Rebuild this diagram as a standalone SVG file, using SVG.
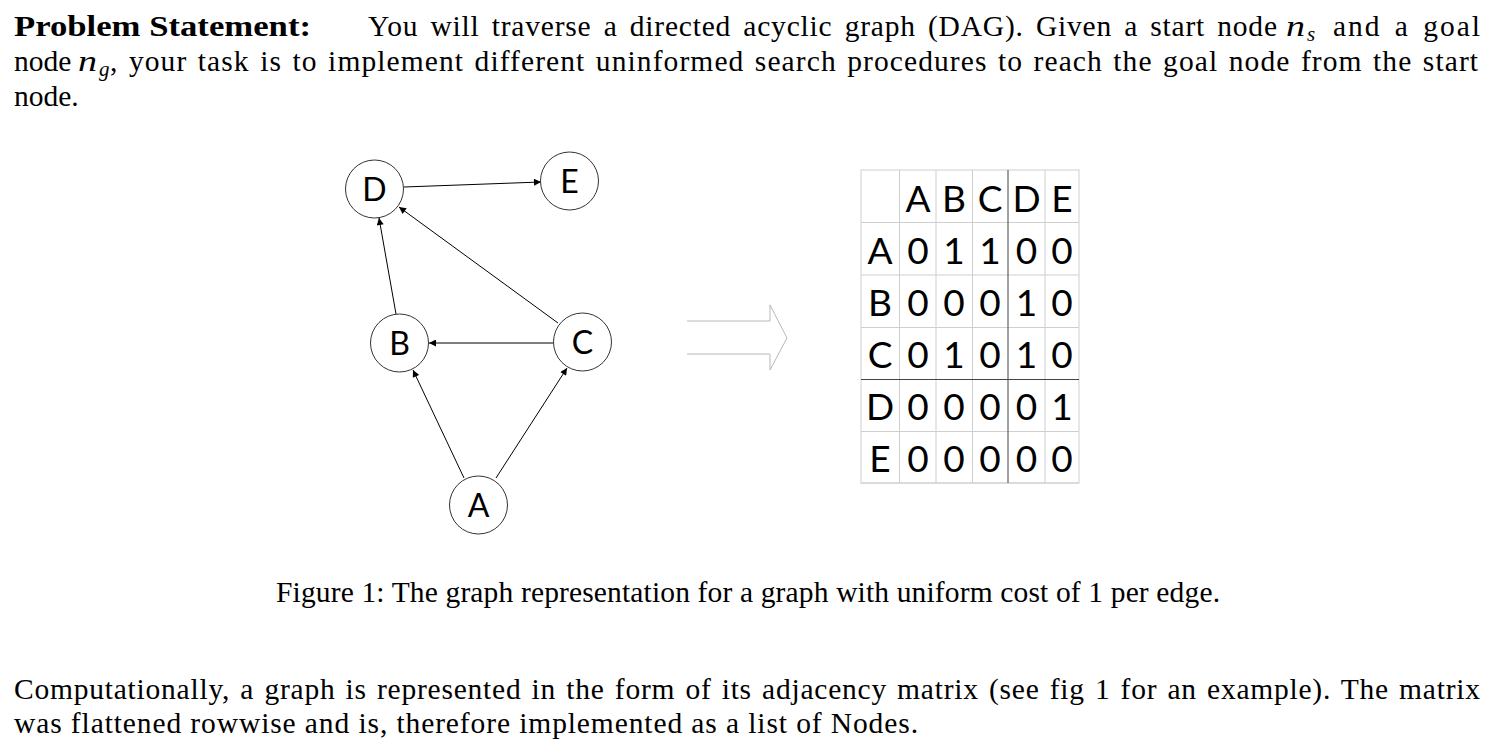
<svg xmlns="http://www.w3.org/2000/svg" width="1500" height="756" viewBox="0 0 1500 756">
<style>
.t{font-family:"Liberation Serif","Times New Roman",serif;font-size:29.5px;fill:#000}
.b{font-weight:bold}
.i{font-style:italic}
.sub{font-family:"Liberation Serif","Times New Roman",serif;font-size:21px;font-style:italic;fill:#000}
.node circle{fill:#fff;stroke:#333;stroke-width:1}
.node text{font-family:Lato,"Open Sans",sans-serif;font-size:32px;text-anchor:middle;fill:#000}
.edge{stroke:#000;stroke-width:1;fill:none;marker-end:url(#ah)}
.grid{stroke:#cfcfcf;stroke-width:1;fill:none}
.gdark{stroke:#444;stroke-width:1}
.m{font-family:Lato,"Open Sans",sans-serif;font-size:37px;text-anchor:middle;fill:#000}
</style>
<defs>
<marker id="ah" viewBox="0 0 10 10" refX="10" refY="5" markerWidth="9" markerHeight="7" markerUnits="userSpaceOnUse" orient="auto">
<path d="M0,0 L10,5 L0,10 z" fill="#000"/>
</marker>
</defs>
<rect width="1500" height="756" fill="#fff"/>

<g id="text-top">
<text class="t b" x="14" y="36" textLength="297" lengthAdjust="spacingAndGlyphs">Problem Statement:</text>
<text class="t" x="368" y="36" word-spacing="4" textLength="909" lengthAdjust="spacing">You will traverse a directed acyclic graph (DAG). Given a start node</text>
<text class="t i" x="1286" y="36" textLength="19" lengthAdjust="spacingAndGlyphs">n</text>
<text class="sub" x="1307" y="41">s</text>
<text class="t" x="1333" y="36" word-spacing="4" textLength="147" lengthAdjust="spacing">and a goal</text>
<text class="t" x="14" y="71">node</text>
<text class="t i" x="78" y="71" textLength="19" lengthAdjust="spacingAndGlyphs">n</text>
<text class="sub" x="99" y="76">g</text>
<text class="t" x="110" y="71" word-spacing="2" textLength="1368" lengthAdjust="spacing">, your task is to implement different uninformed search procedures to reach the goal node from the start</text>
<text class="t" x="14" y="106">node.</text>
</g>

<g id="connectors">
<line class="edge" x1="404" y1="187" x2="541" y2="182"/>
<line class="edge" x1="396" y1="314" x2="379" y2="218"/>
<line class="edge" x1="558" y1="323" x2="399" y2="207"/>
<line class="edge" x1="553" y1="343" x2="429" y2="343"/>
<line class="edge" x1="464" y1="478" x2="413" y2="370"/>
<line class="edge" x1="496" y1="478" x2="567" y2="368"/>
</g>

<g id="node-D" class="node"><circle cx="374.5" cy="189" r="29"/><text x="374.5" y="201">D</text></g>
<g id="node-E" class="node"><circle cx="569.5" cy="181" r="29"/><text x="569.5" y="193">E</text></g>
<g id="node-B" class="node"><circle cx="399.5" cy="343" r="29"/><text x="399.5" y="355">B</text></g>
<g id="node-C" class="node"><circle cx="582.5" cy="342" r="29"/><text x="582.5" y="354">C</text></g>
<g id="node-A" class="node"><circle cx="478.5" cy="505" r="29"/><text x="478.5" y="517">A</text></g>

<g id="big-arrow">
<polyline points="687,321 770,321 770,305 787,338 770,370 770,354 687,354" fill="none" stroke="#b8b8b8" stroke-width="1"/>
</g>

<g id="matrix">
<rect class="grid" x="861" y="170" width="218" height="313" stroke="#e0e0e0"/>
<line class="grid" x1="899.5" y1="170" x2="899.5" y2="483"/>
<line class="grid" x1="936" y1="170" x2="936" y2="483"/>
<line class="grid" x1="972.5" y1="170" x2="972.5" y2="483"/>
<line class="grid" x1="1045" y1="170" x2="1045" y2="483"/>
<line class="grid" x1="861" y1="222.5" x2="1079" y2="222.5"/>
<line class="grid" x1="861" y1="275" x2="1079" y2="275"/>
<line class="grid" x1="861" y1="327.5" x2="1079" y2="327.5"/>
<line class="grid" x1="861" y1="431.5" x2="1079" y2="431.5"/>
<line class="grid" x1="861" y1="483" x2="1079" y2="483" stroke="#aaa"/>
<line class="gdark" x1="1008" y1="170" x2="1008" y2="483"/>
<line class="gdark" x1="861" y1="379.5" x2="1079" y2="379.5"/>
<g class="mt">
<text class="m" x="918" y="212">A</text><text class="m" x="954" y="212">B</text><text class="m" x="990" y="212">C</text><text class="m" x="1026.5" y="212">D</text><text class="m" x="1062" y="212">E</text>
<text class="m" x="880" y="264">A</text><text class="m" x="918" y="264">0</text><text class="m" x="954" y="264">1</text><text class="m" x="990" y="264">1</text><text class="m" x="1026.5" y="264">0</text><text class="m" x="1062" y="264">0</text>
<text class="m" x="880" y="316">B</text><text class="m" x="918" y="316">0</text><text class="m" x="954" y="316">0</text><text class="m" x="990" y="316">0</text><text class="m" x="1026.5" y="316">1</text><text class="m" x="1062" y="316">0</text>
<text class="m" x="880" y="368">C</text><text class="m" x="918" y="368">0</text><text class="m" x="954" y="368">1</text><text class="m" x="990" y="368">0</text><text class="m" x="1026.5" y="368">1</text><text class="m" x="1062" y="368">0</text>
<text class="m" x="880" y="420">D</text><text class="m" x="918" y="420">0</text><text class="m" x="954" y="420">0</text><text class="m" x="990" y="420">0</text><text class="m" x="1026.5" y="420">0</text><text class="m" x="1062" y="420">1</text>
<text class="m" x="880" y="472">E</text><text class="m" x="918" y="472">0</text><text class="m" x="954" y="472">0</text><text class="m" x="990" y="472">0</text><text class="m" x="1026.5" y="472">0</text><text class="m" x="1062" y="472">0</text>
</g>
</g>

<g id="caption">
<text class="t" x="276" y="602" textLength="944" lengthAdjust="spacing">Figure 1: The graph representation for a graph with uniform cost of 1 per edge.</text>
</g>

<g id="text-bottom">
<text class="t" x="14" y="699" word-spacing="2" textLength="1466" lengthAdjust="spacing">Computationally, a graph is represented in the form of its adjacency matrix (see fig 1 for an example). The matrix</text>
<text class="t" x="14" y="733" textLength="904" lengthAdjust="spacing">was flattened rowwise and is, therefore implemented as a list of Nodes.</text>
</g>
</svg>
